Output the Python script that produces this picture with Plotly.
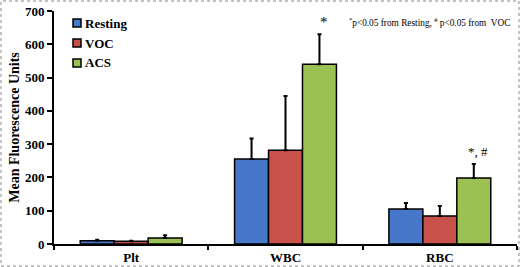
import plotly.graph_objects as go

categories = ["Plt", "WBC", "RBC"]
series_names = ["Resting", "VOC", "ACS"]
resting = [10, 255, 105]
resting_err = [3, 62, 18]
voc = [8, 282, 84]
voc_err = [2, 163, 30]
acs = [18, 540, 198]
acs_err = [8, 90, 42]
y_ticks = [0, 100, 200, 300, 400, 500, 600, 700]

colors = ["#4677c8", "#c9514b", "#9bc152"]
font_family = "Liberation Serif, Times New Roman, serif"

W, H = 520, 267
L, R, T, B = 54, 3, 11, 23
pw, ph = W - L - R, H - T - B


def px_x(x):
    return (x - L) / pw


def px_y(y):
    return (H - B - y) / ph


fig = go.Figure()
for name, vals, errs, col in zip(series_names, [resting, voc, acs],
                                 [resting_err, voc_err, acs_err], colors):
    fig.add_trace(go.Bar(
        name=name, x=categories, y=vals, showlegend=False,
        marker=dict(color=col, line=dict(color="black", width=1.5)),
        error_y=dict(type="data", symmetric=False, array=errs,
                     arrayminus=[0] * len(errs), color="black",
                     thickness=2, width=2),
    ))

fig.update_layout(
    width=W, height=H,
    margin=dict(l=L, r=R, t=T, b=B),
    paper_bgcolor="white", plot_bgcolor="white",
    barmode="group", bargap=0.34, bargroupgap=0,
    font=dict(family=font_family, color="black"),
    showlegend=False,
    xaxis=dict(type="category", tickson="boundaries", ticks="outside",
               ticklen=4, tickcolor="black", tickwidth=1.5,
               showline=True, linecolor="black", linewidth=2,
               tickfont=dict(family=font_family, size=13, color="black", weight="bold"),
               range=[-0.5, 2.5]),
    yaxis=dict(range=[0, 700], tickvals=y_ticks, ticks="outside", ticklen=5,
               tickcolor="black", tickwidth=1.5, showline=True,
               linecolor="black", linewidth=2, showgrid=False, zeroline=False,
               tickfont=dict(family=font_family, size=13, color="black", weight="bold"),
               title=dict(text="Mean Fluorescence Units", standoff=2,
                          font=dict(family=font_family, size=14, color="black", weight="bold"))),
)

# legend drawn manually (small squares close to text, as in the reference)
for i, (name, col) in enumerate(zip(series_names, colors)):
    cy = 23 + 20 * i
    fig.add_shape(type="rect", xref="paper", yref="paper",
                  x0=px_x(73), x1=px_x(81), y0=px_y(cy + 4), y1=px_y(cy - 4),
                  fillcolor=col, line=dict(color="black", width=1.5))
    fig.add_annotation(x=px_x(83), y=px_y(cy), xref="paper", yref="paper",
                       xanchor="left", yanchor="middle", showarrow=False,
                       text=name,
                       font=dict(family=font_family, size=13, color="black", weight="bold"))

fig.add_annotation(x=1.25, y=acs[1] + acs_err[1] + 8, xref="x", yref="y",
                   text="*", showarrow=False, yanchor="bottom",
                   font=dict(family=font_family, size=15, color="black"))
fig.add_annotation(x=2.25, y=acs[2] + acs_err[2] + 8, xref="x", yref="y",
                   text="*, #", showarrow=False, yanchor="bottom",
                   font=dict(family=font_family, size=13, color="black"))
fig.add_annotation(x=px_x(347), y=px_y(22), xref="paper", yref="paper",
                   xanchor="left", yanchor="middle", showarrow=False,
                   text="<sup>*</sup>p<0.05 from Resting, <sup>#</sup> p<0.05 from  VOC",
                   font=dict(family=font_family, size=9.3, color="black"))

# dotted border around the whole image
fig.add_shape(type="rect", xref="paper", yref="paper",
              x0=px_x(1), x1=px_x(519), y0=px_y(266), y1=px_y(1),
              line=dict(color="#888888", width=1, dash="dot"),
              fillcolor="rgba(0,0,0,0)", layer="below")

fig.write_html("out.html", config={"displayModeBar": False},
               post_script="document.body.style.margin='0';"
                           "document.body.style.padding='0';"
                           "document.body.style.overflow='hidden';")
